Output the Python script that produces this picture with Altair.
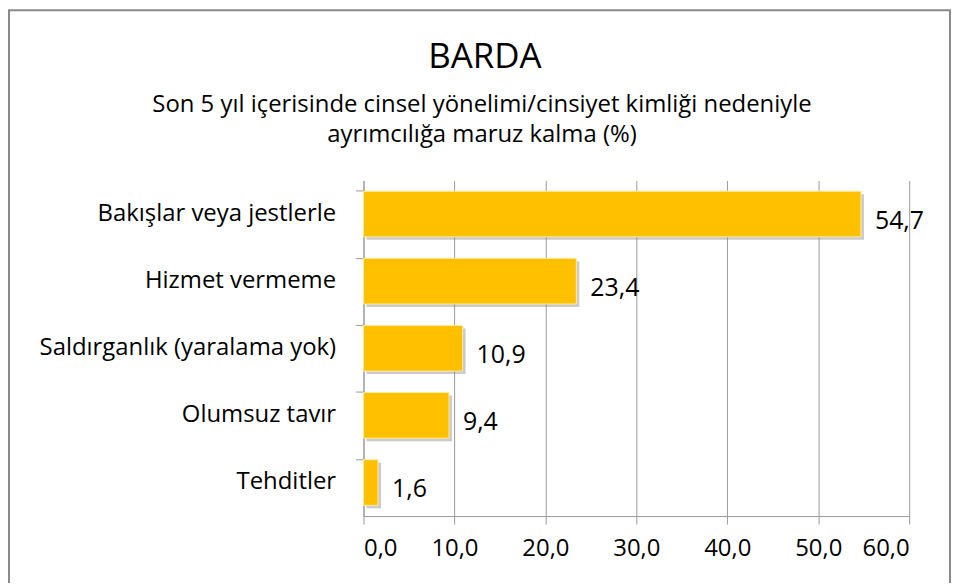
import altair as alt
import pandas as pd

categories = ["Bakışlar veya jestlerle", "Hizmet vermeme", "Saldırganlık (yaralama yok)", "Olumsuz tavır", "Tehditler"]
values = [54.7, 23.4, 10.9, 9.4, 1.6]
x_ticks = [0, 10, 20, 30, 40, 50, 60]
title_lines = ["BARDA",
               "Son 5 yıl içerisinde cinsel yönelimi/cinsiyet kimliği nedeniyle",
               "ayrımcılığa maruz kalma (%)"]

df = pd.DataFrame({"cat": categories, "val": values})
df["label"] = [f"{v:.1f}".replace(".", ",") for v in values]

FONT = "Open Sans"
W, H = 548, 337
PL, PT = 357, 172

y_enc = alt.Y("cat:N", sort=categories, title=None,
              scale=alt.Scale(paddingInner=0.32, paddingOuter=0.16),
              axis=alt.Axis(labelFont=FONT, labelFontSize=24, labelColor="#000",
                            labelPadding=20, tickSize=8, tickColor="#999",
                            domainColor="#999", bandPosition=0, grid=False,
                            labelLimit=400))
x_enc = alt.X("val:Q", title=None,
              scale=alt.Scale(domain=[0, 60], nice=False),
              axis=alt.Axis(values=x_ticks, labelFont=FONT, labelFontSize=24,
                            labelColor="#000", labelPadding=13, tickSize=8,
                            tickColor="#999", domainColor="#999", gridColor="#999",
                            labelExpr="replace(format(datum.value, '.1f'), '.', ',')"))

base = alt.Chart(df)
shadow = base.mark_bar(color="#8c8c8c", opacity=0.45, xOffset=3, yOffset=3).encode(x=x_enc, y=y_enc)
bars = base.mark_bar(color="#FFC000", stroke="#FFE9A0", strokeWidth=1).encode(x=x_enc, y=y_enc)
text = base.mark_text(align="left", dx=14, dy=7, font=FONT, fontSize=25, color="#000").encode(
    x=x_enc, y=y_enc, text="label:N")

one = pd.DataFrame({"a": [0]})
border = alt.Chart(one).mark_rect(fill=None, stroke="#8a8a8a", strokeWidth=2).encode(
    x=alt.value(-PL + 1), x2=alt.value(589), y=alt.value(-PT + 1), y2=alt.value(430))

TX = 487 - 365
t1 = alt.Chart(one).mark_text(text=title_lines[0], font=FONT, fontSize=35, baseline="alphabetic",
                              align="center", color="#000").encode(x=alt.value(TX), y=alt.value(67 - 180))
t2 = alt.Chart(one).mark_text(text=title_lines[1], font=FONT, fontSize=24, baseline="alphabetic",
                              align="center", color="#000").encode(x=alt.value(TX - 3), y=alt.value(111 - 180))
t3 = alt.Chart(one).mark_text(text=title_lines[2], font=FONT, fontSize=24, baseline="alphabetic",
                              align="center", color="#000").encode(x=alt.value(TX - 3), y=alt.value(141 - 180))

chart = alt.layer(shadow, bars, text, border, t1, t2, t3).properties(
    width=W, height=H,
    autosize=alt.AutoSizeParams(type="none"),
    padding={"left": PL, "top": PT, "right": 43, "bottom": 66},
).configure_view(stroke=None)

chart.save("out.html", embed_options={"renderer": "svg", "actions": False})
